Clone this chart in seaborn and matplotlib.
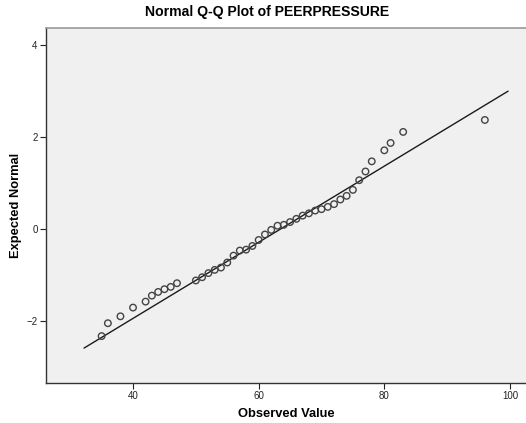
import numpy as np
import pandas as pd
import seaborn as sns
import matplotlib.pyplot as plt

observed = [35, 36, 38, 40, 42, 43, 44, 45, 46, 47, 50, 51, 52, 53, 54, 55,
            56, 57, 58, 59, 60, 61, 62, 63, 64, 65, 66, 67, 68, 69, 70, 71,
            72, 73, 74, 75, 76, 77, 78, 80, 81, 83, 96]
expected = [-2.33, -2.05, -1.90, -1.71, -1.58, -1.45, -1.37, -1.31, -1.26,
            -1.18, -1.12, -1.05, -0.96, -0.89, -0.84, -0.73, -0.58, -0.47,
            -0.45, -0.37, -0.24, -0.12, -0.02, 0.07, 0.09, 0.15, 0.22, 0.29,
            0.34, 0.40, 0.43, 0.48, 0.54, 0.64, 0.72, 0.85, 1.06, 1.25, 1.47,
            1.71, 1.87, 2.11, 2.37]

# reta de referencia: media e desvio padrao
media = 63.5
desvio = 12.08
linha_x = [32.2, 99.7]

dados = pd.DataFrame({'Observed': observed, 'Expected': expected})
linha = pd.DataFrame({'x': linha_x})
linha['y'] = (linha['x'] - media) / desvio

sns.set_style('white')
plt.rcParams['font.family'] = ['Liberation Sans', 'DejaVu Sans']
plt.rcParams['text.color'] = 'black'
plt.rcParams['axes.labelcolor'] = 'black'

fig = plt.figure(figsize=(5.26, 4.23), dpi=100)
ax = fig.add_axes([46 / 526, 1 - 383 / 423, 1 - 46 / 526, (383 - 28) / 423])
ax.set_facecolor('#f0f0f0')

sns.lineplot(data=linha, x='x', y='y', color='#1a1a1a', linewidth=1.0, ax=ax)
sns.scatterplot(data=dados, x='Observed', y='Expected', ax=ax, s=22,
                facecolors='none', edgecolor='#444444', linewidth=1.0,
                zorder=3)

ax.set_xlim(26.15, 102.55)
ax.set_ylim(-3.35, 4.37)
ax.set_xticks([40, 60, 80, 100])
ax.set_yticks([-2, 0, 2, 4])
ax.tick_params(axis='both', direction='out', length=4, width=0.8,
               labelsize=7, colors='#222222', pad=2)
ax.tick_params(left=True, bottom=True)

for lado in ['left', 'bottom']:
    ax.spines[lado].set_color('#333333')
    ax.spines[lado].set_linewidth(1.0)
ax.spines['top'].set_color('#999999')
ax.spines['top'].set_linewidth(1.2)
ax.spines['right'].set_visible(False)

ax.set_xlabel('Observed Value', fontsize=9.3, fontweight='bold', labelpad=5)
ax.set_ylabel('Expected Normal', fontsize=9.3, fontweight='bold', labelpad=3.5)
fig.text(0.508, 1 - 12 / 423, 'Normal Q-Q Plot of PEERPRESSURE', ha='center',
         va='center', fontsize=10.1, fontweight='bold')

fig.savefig('out.png', dpi=100)
